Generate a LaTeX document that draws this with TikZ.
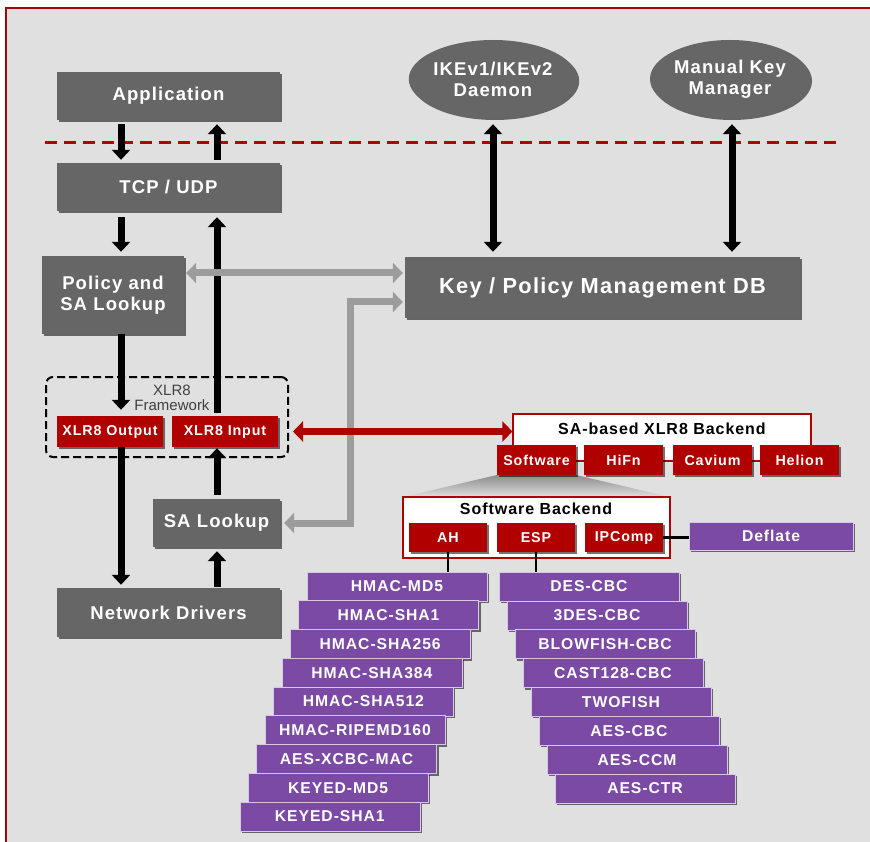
\documentclass[tikz,border=0pt]{standalone}
\usepackage{fontspec}
\newfontfamily\boxfont[LetterSpace=6]{Liberation Sans}
\newfontfamily\plainfont{Liberation Sans}
\usetikzlibrary{arrows.meta, shapes.geometric, shadows, positioning}
\definecolor{bgGray}{HTML}{E0E0E0}
\definecolor{boxGray}{HTML}{666666}
\definecolor{btnRed}{HTML}{B00000}
\definecolor{frameRed}{HTML}{A80000}
\definecolor{purp}{HTML}{7A4AA4}
\definecolor{arrGray}{HTML}{9C9C9C}
\tikzset{
  shad/.style={drop shadow={shadow xshift=2pt, shadow yshift=-2pt, fill=black, opacity=0.55}},
  grybox/.style={shad, fill=boxGray, text=white, inner sep=0, align=center,
    font=\boxfont\bfseries\fontsize{18.5}{21}\selectfont},
  keyell/.style={grybox, ellipse, minimum width=160pt, minimum height=78pt},
  redbtn/.style={shad, fill=btnRed, text=white, inner sep=0,
    minimum width=79pt, minimum height=30pt, font=\boxfont\bfseries\fontsize{14.3}{17}\selectfont},
  backbox/.style={draw=btnRed, fill=white, line width=1.2pt, inner sep=0},
  purbox/.style={shad, fill=purp, draw=white!70!purp, line width=0.6pt, text=white, inner sep=0,
    minimum width=180pt, minimum height=29pt, font=\boxfont\bfseries\fontsize{15.7}{18}\selectfont},
  blk/.style={line width=7pt, {Triangle[width=18pt,length=10pt]}-{Triangle[width=18pt,length=10pt]}},
  blkto/.style={line width=7pt, -{Triangle[width=18pt,length=10pt]}},
  gry/.style={draw=arrGray, line width=7pt, {Triangle[width=20pt,length=10pt]}-{Triangle[width=20pt,length=10pt]}},
}
\begin{document}
\begin{tikzpicture}[x=1pt, y=-1pt]
  \useasboundingbox (0,0) rectangle (870,842);
  \fill[white] (0,0) rectangle (870,842);
  \draw[frameRed, line width=2pt, fill=bgGray] (6,8) rectangle (900,900);

  % user / kernel border
  \draw[btnRed, line width=3pt, dash pattern=on 12pt off 7pt] (45,143) -- (840,143);

  % stack on the left
  \node[grybox, minimum width=223pt, minimum height=48pt] (app) at (168.5,96) {Application};
  \node[grybox, minimum width=223pt, minimum height=48pt] (tcp) at (168.5,187) {TCP / UDP};
  \node[grybox, minimum width=142pt, minimum height=78pt] (policy) at (113,295) {Policy and\\SA Lookup};
  \node[grybox, minimum width=127pt, minimum height=48pt] (salk) at (216.5,523) {SA Lookup};
  \node[grybox, minimum width=223pt, minimum height=49pt] (nd) at (168.5,612.5) {Network Drivers};

  % key management
  \node[keyell] (ike) at (493,79) {IKEv1/IKEv2\\Daemon};
  \node[keyell] (mkm) at (730,79) {Manual Key\\Manager};
  \node[grybox, minimum width=395pt, minimum height=61pt,
    font=\boxfont\bfseries\fontsize{21.8}{25}\selectfont] (kdb) at (602.5,287.5) {Key / Policy Management DB};

  % framework
  \node[draw, dashed, dash pattern=on 8pt off 4pt, line width=2pt, rounded corners=7pt,
    minimum width=242pt, minimum height=80pt, inner sep=0] (fw) at (167,417) {};
  \node[font=\plainfont\fontsize{15}{15}\selectfont, text=black!75, align=center, inner sep=0]
    (fwlbl) at (172,397.5) {XLR8\\Framework};
  \node[redbtn, minimum width=106pt, minimum height=31pt] (xout) at (110,431.5) {XLR8 Output};
  \node[redbtn, minimum width=106pt, minimum height=31pt] (xin) at (225,431.5) {XLR8 Input};

  % backends
  \node[backbox, minimum width=298pt, minimum height=47pt] (sab) at (662,437.5) {};
  \node[font=\boxfont\bfseries\fontsize{16}{19}\selectfont, inner sep=0] (sablbl) at (662,429) {SA-based XLR8 Backend};
  \shade[top color=black!45, bottom color=bgGray] (497,475) -- (576,475) -- (670,497) -- (403,497) -- cycle;
  \node[redbtn] (sw) at (536.5,460) {Software};
  \node[redbtn] (hifn) at (623.5,460) {HiFn};
  \node[redbtn] (cav) at (712.5,460) {Cavium};
  \node[redbtn] (hel) at (799.5,460) {Helion};

  \node[backbox, minimum width=267pt, minimum height=61pt] (swb) at (536.5,527.5) {};
  \node[font=\boxfont\bfseries\fontsize{16}{19}\selectfont, inner sep=0] (swblbl) at (536,509) {Software Backend};
  \node[redbtn, minimum width=78pt, minimum height=29pt] (ah) at (448,537.5) {AH};
  \node[redbtn, minimum width=78pt, minimum height=29pt] (esp) at (536,537.5) {ESP};
  \node[redbtn, minimum width=78pt, minimum height=29pt] (ipc) at (624,537.5) {IPComp};
  \node[purbox, minimum width=164pt, minimum height=28pt] (defl) at (771,536) {Deflate};

  % authentication algorithms
  \node[purbox] (a1) at (397,586.5) {HMAC-MD5};
  \node[purbox] (a2) at (388.6,615.25) {HMAC-SHA1};
  \node[purbox] (a3) at (380.2,644) {HMAC-SHA256};
  \node[purbox] (a4) at (371.8,672.75) {HMAC-SHA384};
  \node[purbox] (a5) at (363.4,701.5) {HMAC-SHA512};
  \node[purbox] (a6) at (355,730.25) {HMAC-RIPEMD160};
  \node[purbox] (a7) at (346.6,759) {AES-XCBC-MAC};
  \node[purbox] (a8) at (338.2,787.75) {KEYED-MD5};
  \node[purbox] (a9) at (329.8,816.5) {KEYED-SHA1};

  % encryption algorithms
  \node[purbox] (e1) at (589,586.5) {DES-CBC};
  \node[purbox] (e2) at (597,615.4) {3DES-CBC};
  \node[purbox] (e3) at (605,644.2) {BLOWFISH-CBC};
  \node[purbox] (e4) at (613,673.1) {CAST128-CBC};
  \node[purbox] (e5) at (621,701.9) {TWOFISH};
  \node[purbox] (e6) at (629,730.8) {AES-CBC};
  \node[purbox] (e7) at (637,759.7) {AES-CCM};
  \node[purbox] (e8) at (645,788.5) {AES-CTR};

  % connectors
  \draw[blkto, shorten <=4pt, shorten >=3pt] ([xshift=-47.5pt]app.south) -- ([xshift=-47.5pt]app.south |- tcp.north);
  \draw[blkto, shorten <=3pt, shorten >=4pt] ([xshift=48.5pt]tcp.north) -- ([xshift=48.5pt]tcp.north |- app.south);
  \draw[blkto, shorten <=6pt, shorten >=4pt] ([xshift=-47.5pt]tcp.south) -- ([xshift=-47.5pt]tcp.south |- policy.north);
  \draw[blkto, shorten <=3pt, shorten >=6pt] ([xshift=-8pt]xin.north) -- ([xshift=-8pt]xin.north |- tcp.south);
  \draw[blkto, shorten >=6pt] ([xshift=8pt]policy.south) -- ([xshift=8pt]policy.south |- xout.north);
  \draw[blkto, shorten >=3pt] (xout.south -| policy.south) ++(8,0) coordinate (outdn) -- (outdn |- nd.north);
  \draw[blkto, shorten <=4pt, shorten >=1pt] ([xshift=-8pt]xin.south |- salk.north) -- ([xshift=-8pt]xin.south);
  \draw[blkto, shorten <=1pt, shorten >=4pt] ([xshift=0.5pt]salk.south |- nd.north) -- ([xshift=0.5pt]salk.south);
  \draw[blk, shorten <=6pt, shorten >=5pt] (ike.south) -- (ike.south |- kdb.north);
  \draw[blk, shorten <=6pt, shorten >=5pt] ([xshift=2pt]mkm.south) -- ([xshift=2pt]mkm.south |- kdb.north);
  \draw[gry, shorten <=2pt, shorten >=2pt] ([yshift=22pt]policy.east) -- ([yshift=22pt]policy.east -| kdb.west);
  \coordinate (bend) at (350,302);
  \draw[gry, shorten <=4pt, shorten >=2pt] (salk.east) -| (bend) -- (bend -| kdb.west);
  \draw[btnRed, line width=7pt, {Triangle[width=20pt,length=10pt]}-{Triangle[width=20pt,length=10pt]}, shorten <=4pt]
    (fw.east |- xin.east) -- (sab.west |- xin.east);
  \draw[line width=2.5pt] (ipc.east) -- (ipc.east -| defl.west);
  \draw[line width=2.5pt] (ah.south) -- (ah.south |- a1.north);
  \draw[line width=2.5pt] (esp.south) -- (esp.south |- e1.north);
\end{tikzpicture}
\end{document}
